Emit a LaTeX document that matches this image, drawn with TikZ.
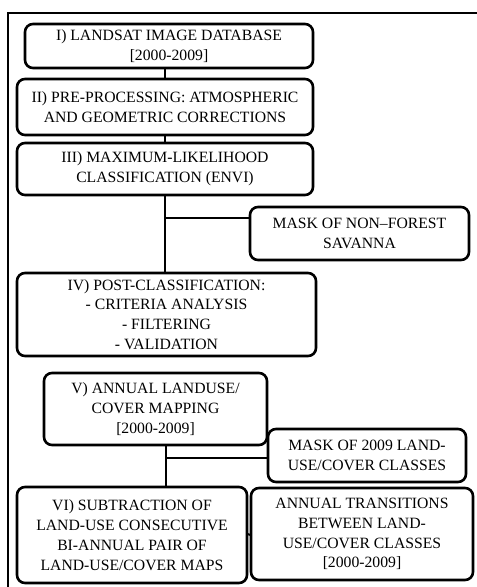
\documentclass[tikz,border=0pt]{standalone}
\usepackage{fontspec}
\setmainfont{Liberation Serif}

\begin{document}
\begin{tikzpicture}[x=1pt, y=-1pt,
        stagebox/.style={draw, line width=2.6pt, rounded corners=8pt, align=center,
            inner sep=0pt, font=\fontsize{15.7}{19.8}\selectfont},
        link/.style={line width=2.6pt}]

            \useasboundingbox (0,0) rectangle (477,587);

            \draw[line width=2.6pt] (477,13) -- (8,13) -- (8,587);

            \node[stagebox, minimum width=288pt, minimum height=44pt] (landsat) at (169,46) {I) LANDSAT IMAGE DATABASE\\{}[2000-2009]};
            \node[stagebox, minimum width=296pt, minimum height=56pt] (preproc) at (165,107) {II) PRE-PROCESSING: ATMOSPHERIC\\AND GEOMETRIC CORRECTIONS};
            \node[stagebox, minimum width=296pt, minimum height=52pt] (maxlike) at (165,169) {III) MAXIMUM-LIKELIHOOD\\CLASSIFICATION (ENVI)};
            \node[stagebox, minimum width=219pt, minimum height=53pt] (savanna) at (359.5,233.5) {MASK OF NON--FOREST\\SAVANNA};
            \node[stagebox, minimum width=299pt, minimum height=83pt] (postclass) at (166.5,314.5) {IV) POST-CLASSIFICATION:\\- CRITERIA ANALYSIS\\- FILTERING\\- VALIDATION};
            \node[stagebox, minimum width=223pt, minimum height=72pt] (mapping) at (155.5,409) {V) ANNUAL LANDUSE/\\COVER MAPPING\\{}[2000-2009]};
            \node[stagebox, minimum width=198pt, minimum height=53pt] (mask2009) at (367,455.5) {MASK OF 2009 LAND-\\USE/COVER CLASSES};
            \node[stagebox, minimum width=230pt, minimum height=96pt] (subtract) at (132,535) {VI) SUBTRACTION OF\\LAND-USE CONSECUTIVE\\BI-ANNUAL PAIR OF\\LAND-USE/COVER MAPS};
            \node[stagebox, minimum width=222pt, minimum height=92pt] (transit) at (362,534) {ANNUAL TRANSITIONS\\BETWEEN LAND-\\USE/COVER CLASSES\\{}[2000-2009]};

            \coordinate (savjoin) at (165,218);
            \coordinate (maskjoin) at (166,458);

            \draw[link] (preproc.north) -- (preproc.north |- landsat.south);
            \draw[link] (maxlike.north) -- (maxlike.north |- preproc.south);
            \draw[link] (maxlike.south) -- (maxlike.south |- postclass.north);
            \draw[link] (savjoin) -- (savjoin -| savanna.west);
            \draw[link] (maskjoin |- mapping.south) -- (maskjoin |- subtract.north);
            \draw[link] (maskjoin) -- (maskjoin -| mask2009.west);
            \draw[link] (subtract.east) -- (transit.west);

        \end{tikzpicture}
\end{document}
